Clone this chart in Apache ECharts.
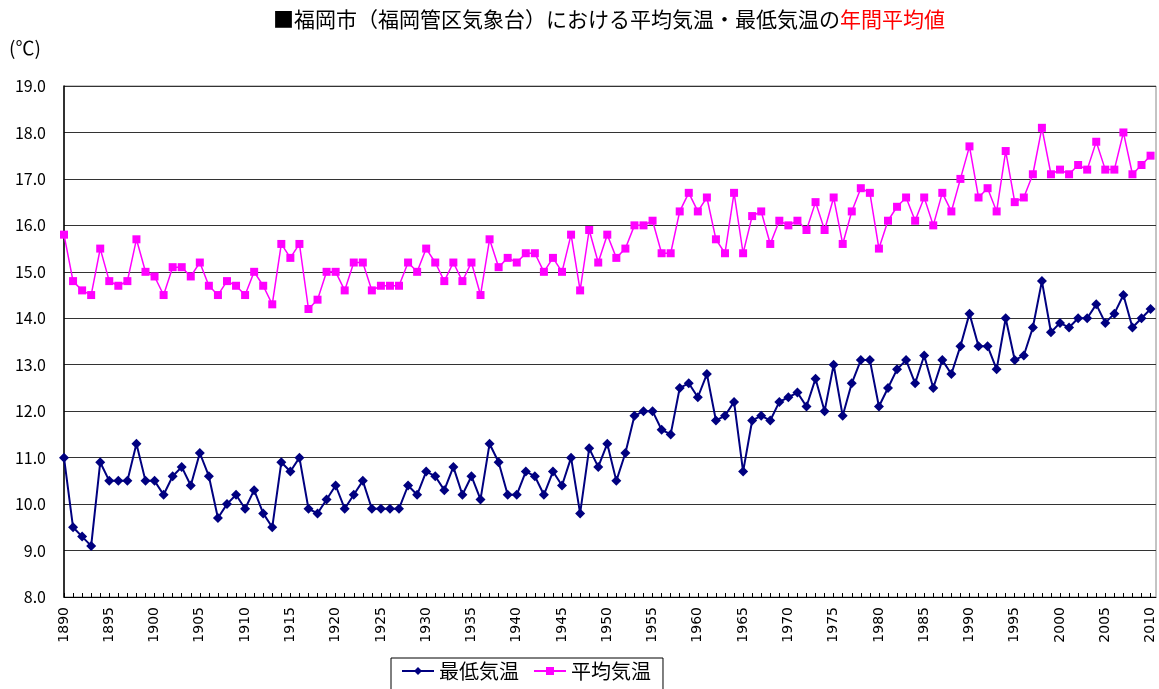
<!DOCTYPE html>
<html lang="ja">
<head>
<meta charset="UTF-8">
<title>福岡市 平均気温・最低気温</title>
<style>
  html, body { margin: 0; padding: 0; background: #fff; }
  #main { width: 1159px; height: 689px; }
</style>
</head>
<body>
<div id="main"></div>
<script src="https://cdn.jsdelivr.net/npm/echarts@6/dist/echarts.min.js"></script>
<script type="text/javascript">
// 年 (1890-2010)
var years = [];
for (var y = 1890; y <= 2010; y++) years.push(y);

// 最低気温 年間平均値
var minTemp = [
  11.0, 9.5, 9.3, 9.1, 10.9, 10.5, 10.5, 10.5, 11.3, 10.5,
  10.5, 10.2, 10.6, 10.8, 10.4, 11.1, 10.6, 9.7, 10.0, 10.2,
  9.9, 10.3, 9.8, 9.5, 10.9, 10.7, 11.0, 9.9, 9.8, 10.1,
  10.4, 9.9, 10.2, 10.5, 9.9, 9.9, 9.9, 9.9, 10.4, 10.2,
  10.7, 10.6, 10.3, 10.8, 10.2, 10.6, 10.1, 11.3, 10.9, 10.2,
  10.2, 10.7, 10.6, 10.2, 10.7, 10.4, 11.0, 9.8, 11.2, 10.8,
  11.3, 10.5, 11.1, 11.9, 12.0, 12.0, 11.6, 11.5, 12.5, 12.6,
  12.3, 12.8, 11.8, 11.9, 12.2, 10.7, 11.8, 11.9, 11.8, 12.2,
  12.3, 12.4, 12.1, 12.7, 12.0, 13.0, 11.9, 12.6, 13.1, 13.1,
  12.1, 12.5, 12.9, 13.1, 12.6, 13.2, 12.5, 13.1, 12.8, 13.4,
  14.1, 13.4, 13.4, 12.9, 14.0, 13.1, 13.2, 13.8, 14.8, 13.7,
  13.9, 13.8, 14.0, 14.0, 14.3, 13.9, 14.1, 14.5, 13.8, 14.0,
  14.2
];

// 平均気温 年間平均値
var avgTemp = [
  15.8, 14.8, 14.6, 14.5, 15.5, 14.8, 14.7, 14.8, 15.7, 15.0,
  14.9, 14.5, 15.1, 15.1, 14.9, 15.2, 14.7, 14.5, 14.8, 14.7,
  14.5, 15.0, 14.7, 14.3, 15.6, 15.3, 15.6, 14.2, 14.4, 15.0,
  15.0, 14.6, 15.2, 15.2, 14.6, 14.7, 14.7, 14.7, 15.2, 15.0,
  15.5, 15.2, 14.8, 15.2, 14.8, 15.2, 14.5, 15.7, 15.1, 15.3,
  15.2, 15.4, 15.4, 15.0, 15.3, 15.0, 15.8, 14.6, 15.9, 15.2,
  15.8, 15.3, 15.5, 16.0, 16.0, 16.1, 15.4, 15.4, 16.3, 16.7,
  16.3, 16.6, 15.7, 15.4, 16.7, 15.4, 16.2, 16.3, 15.6, 16.1,
  16.0, 16.1, 15.9, 16.5, 15.9, 16.6, 15.6, 16.3, 16.8, 16.7,
  15.5, 16.1, 16.4, 16.6, 16.1, 16.6, 16.0, 16.7, 16.3, 17.0,
  17.7, 16.6, 16.8, 16.3, 17.6, 16.5, 16.6, 17.1, 18.1, 17.1,
  17.2, 17.1, 17.3, 17.2, 17.8, 17.2, 17.2, 18.0, 17.1, 17.3,
  17.5
];

var myChart = echarts.init(document.getElementById('main'));
var jpFont = '"Noto Sans CJK JP", sans-serif';

function pairs(arr) {
    var out = [];
    for (var i = 0; i < arr.length; i++) out.push([years[i], arr[i]]);
    return out;
}

var option = {
    animation: false,
    backgroundColor: '#fff',
    title: {
        text: '{b|■福岡市（福岡管区気象台）における平均気温・最低気温の}{r|年間平均値}',
        left: 268,
        top: 4,
        textStyle: {
            rich: {
                b: { color: '#000', fontSize: 21, fontWeight: 'normal', fontFamily: jpFont },
                r: { color: '#ff0000', fontSize: 21, fontWeight: 'normal', fontFamily: jpFont }
            }
        }
    },
    graphic: [{
        type: 'text',
        left: 9,
        top: 38,
        style: { text: '(℃)', fill: '#000', fontSize: 19, fontFamily: jpFont }
    }],
    legend: {
        left: 391,
        top: 658,
        itemWidth: 32,
        itemHeight: 10,
        itemGap: 14,
        padding: [3, 12, 10, 10],
        borderColor: '#000',
        borderWidth: 1,
        textStyle: { fontSize: 20, color: '#000', fontFamily: jpFont },
        data: ['最低気温', '平均気温']
    },
    grid: {
        left: 64,
        right: 3,
        top: 86,
        bottom: 92,
        show: true,
        borderColor: '#888',
        borderWidth: 1
    },
    xAxis: {
        type: 'value',
        min: 1890,
        max: 2010.6,
        interval: 1,
        axisLine: { show: true, lineStyle: { color: '#000', width: 1 } },
        axisTick: { show: true, inside: true, length: 4, lineStyle: { color: '#000' } },
        splitLine: { show: false },
        axisLabel: {
            rotate: 90,
            margin: 10,
            fontSize: 14,
            color: '#000',
            fontFamily: '"DejaVu Sans", sans-serif',
            showMaxLabel: false,
            formatter: function (v) {
                return (Math.abs(v - Math.round(v)) < 1e-6 && Math.round(v) % 5 === 0) ? String(Math.round(v)) : '';
            }
        }
    },
    yAxis: {
        type: 'value',
        min: 8,
        max: 19,
        interval: 1,
        axisLine: { show: true, lineStyle: { color: '#000', width: 1.5 } },
        axisTick: { show: false },
        splitLine: { show: true, lineStyle: { color: '#333', width: 1 } },
        axisLabel: {
            margin: 18,
            fontSize: 16,
            color: '#000',
            fontFamily: jpFont,
            formatter: function (v) { return v.toFixed(1); }
        }
    },
    series: [
        {
            name: '最低気温',
            type: 'line',
            data: pairs(minTemp),
            symbol: 'diamond',
            symbolSize: 10,
            color: '#000080',
            lineStyle: { color: '#000080', width: 2 },
            itemStyle: { color: '#000080' }
        },
        {
            name: '平均気温',
            type: 'line',
            data: pairs(avgTemp),
            symbol: 'rect',
            symbolSize: 8,
            color: '#ff00ff',
            lineStyle: { color: '#ff00ff', width: 1.5 },
            itemStyle: { color: '#ff00ff' }
        }
    ]
};

myChart.setOption(option);
window.addEventListener('resize', function () {
    myChart.resize();
});
</script>
</body>
</html>
